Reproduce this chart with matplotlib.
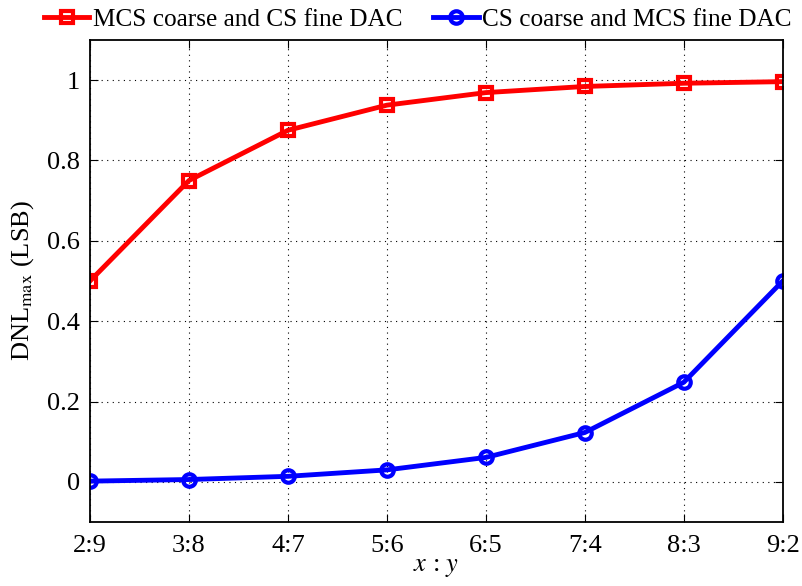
import matplotlib
matplotlib.use("Agg")
import matplotlib.pyplot as plt
import numpy as np

categories = ["2:9", "3:8", "4:7", "5:6", "6:5", "7:4", "8:3", "9:2"]
mcs_coarse = [0.5, 0.75, 0.875, 0.9375, 0.96875, 0.984, 0.992, 0.996]
cs_coarse = [0.002, 0.006, 0.014, 0.030, 0.061, 0.123, 0.248, 0.5]

plt.rcParams['font.family'] = ['Liberation Serif', 'DejaVu Serif']
plt.rcParams['mathtext.fontset'] = 'stix'

fig = plt.figure(figsize=(8.02, 5.86), dpi=100)
ax = fig.add_axes([0.1122, 0.109, 0.8638, 0.823])
x = np.arange(len(categories))

ax.plot(x, mcs_coarse, color='red', lw=3.5, marker='s', ms=8, mfc='none', mew=3,
        label='MCS coarse and CS fine DAC')
ax.plot(x, cs_coarse, color='blue', lw=3.5, marker='o', ms=9, mfc='none', mew=3,
        label='CS coarse and MCS fine DAC')

ax.set_xlim(0, len(categories) - 1)
ax.set_ylim(-0.1, 1.1)
ax.set_xticks(x)
ax.set_xticklabels(categories)
ax.set_yticks([0, 0.2, 0.4, 0.6, 0.8, 1.0])
ax.set_yticklabels(['0', '0.2', '0.4', '0.6', '0.8', '1'])
ax.tick_params(direction='in', top=True, right=True, labelsize=19, length=6, width=0.8)
ax.tick_params(axis='x', pad=9)
ax.tick_params(axis='y', pad=7)
ax.grid(True, linestyle=(0, (1, 4)), color='black', linewidth=0.8)
for s in ax.spines.values():
    s.set_linewidth(1.3)

ax.set_xlabel(r'$x$ : $y$', fontsize=19, labelpad=0)
ax.set_ylabel(r'DNL$_{\mathrm{max}}$ (LSB)', fontsize=19, labelpad=8)

fig.legend(loc='upper center', bbox_to_anchor=(0.521, 0.995), ncol=2, frameon=False,
           fontsize=18.2, handlelength=1.8, handletextpad=0.15, columnspacing=1.2,
           borderaxespad=0.0, borderpad=0.2)

fig.savefig('out.png', dpi=100)
